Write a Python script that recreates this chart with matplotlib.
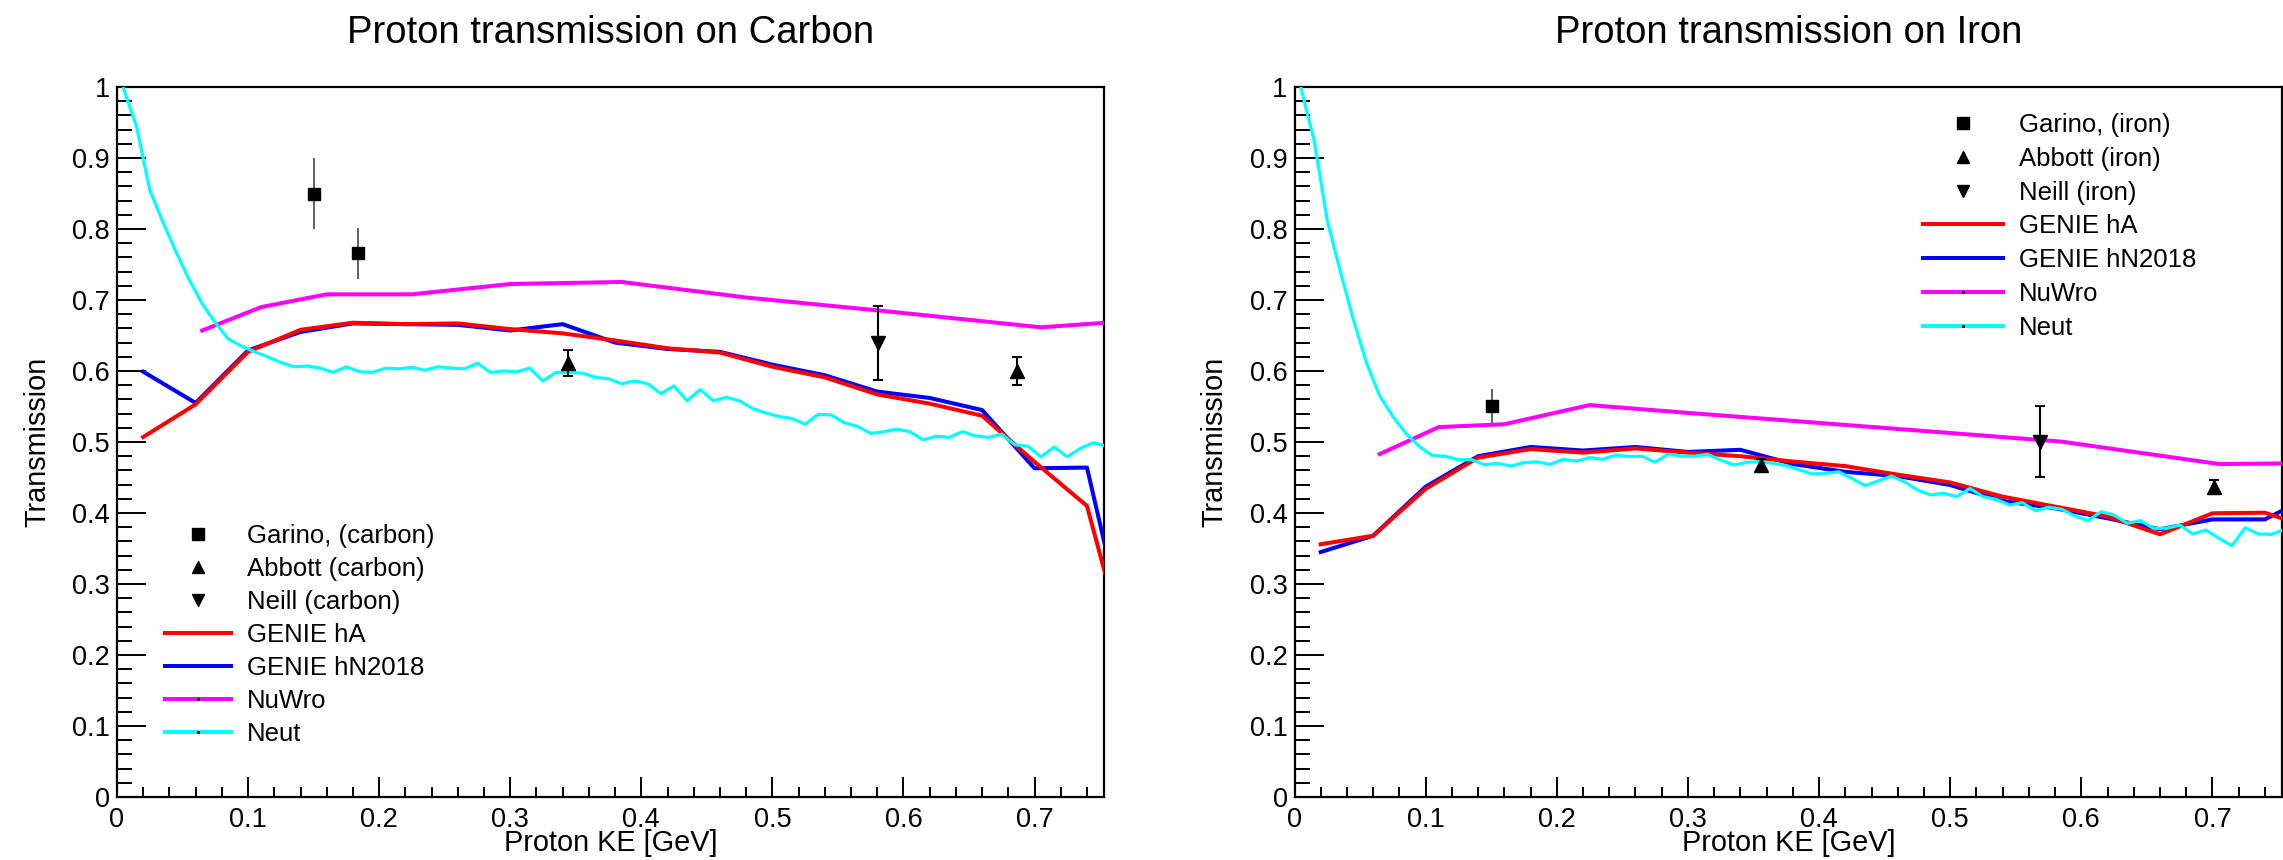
import numpy as np
import matplotlib
matplotlib.use("Agg")
import matplotlib.pyplot as plt
from matplotlib.lines import Line2D
from matplotlib.ticker import MultipleLocator, FormatStrFormatter

plt.rcParams['font.family'] = ['Liberation Sans', 'DejaVu Sans']

# ---------------- data ----------------
# Neut histogram bin centres (0.005 ... 0.755)
neut_x = [round(0.005 + 0.01 * i, 3) for i in range(76)]
neut_carbon = [0.998, 0.944, 0.855, 0.810, 0.768, 0.729, 0.695, 0.668, 0.645, 0.635,
               0.627, 0.620, 0.612, 0.606, 0.607, 0.604, 0.598, 0.606, 0.599, 0.598,
               0.604, 0.603, 0.605, 0.601, 0.606, 0.604, 0.603, 0.611, 0.598, 0.600,
               0.599, 0.604, 0.586, 0.598, 0.598, 0.597, 0.591, 0.589, 0.582, 0.586,
               0.582, 0.568, 0.579, 0.558, 0.574, 0.558, 0.563, 0.558, 0.547, 0.541,
               0.536, 0.533, 0.525, 0.539, 0.538, 0.527, 0.522, 0.512, 0.5145, 0.518,
               0.5145, 0.503, 0.508, 0.5065, 0.5145, 0.5085, 0.5065, 0.511, 0.496, 0.494,
               0.479, 0.493, 0.479, 0.491, 0.499, 0.494]
neut_iron = [0.998, 0.925, 0.812, 0.740, 0.672, 0.611, 0.565, 0.536, 0.512, 0.494,
             0.481, 0.480, 0.475, 0.475, 0.468, 0.470, 0.466, 0.471, 0.472, 0.4685,
             0.4756, 0.473, 0.478, 0.4756, 0.4817, 0.4794, 0.480, 0.4714, 0.483, 0.480,
             0.480, 0.4826, 0.4746, 0.4676, 0.4714, 0.4723, 0.470, 0.4667, 0.4606, 0.455,
             0.456, 0.458, 0.4488, 0.4385, 0.445, 0.452, 0.444, 0.4324, 0.4254, 0.4277,
             0.423, 0.4345, 0.423, 0.4193, 0.4113, 0.4145, 0.4032, 0.408, 0.4052, 0.3958,
             0.3892, 0.4018, 0.3972, 0.3855, 0.3892, 0.3785, 0.3785, 0.383, 0.3704, 0.376,
             0.3643, 0.354, 0.3793, 0.3704, 0.370, 0.377]

# GENIE points (0.02 ... 0.78)
genie_x = [0.02, 0.06, 0.10, 0.14, 0.18, 0.22, 0.26, 0.30, 0.34, 0.38,
           0.42, 0.46, 0.50, 0.54, 0.58, 0.62, 0.66, 0.70, 0.74, 0.78]
ha_carbon = [0.507, 0.553, 0.627, 0.658, 0.668, 0.666, 0.667, 0.659, 0.653, 0.643,
             0.632, 0.626, 0.606, 0.591, 0.567, 0.554, 0.537, 0.472, 0.410, 0.136]
hn_carbon = [0.599, 0.555, 0.629, 0.655, 0.667, 0.666, 0.665, 0.657, 0.666, 0.640,
             0.631, 0.627, 0.609, 0.594, 0.571, 0.562, 0.545, 0.463, 0.464, 0.146]
ha_iron = [0.356, 0.368, 0.434, 0.478, 0.490, 0.485, 0.491, 0.485, 0.480, 0.4725,
           0.466, 0.454, 0.443, 0.423, 0.409, 0.395, 0.370, 0.3996, 0.4004, 0.376]
hn_iron = [0.345, 0.368, 0.437, 0.480, 0.493, 0.488, 0.493, 0.486, 0.489, 0.469,
           0.458, 0.452, 0.4394, 0.417, 0.4066, 0.3925, 0.377, 0.391, 0.391, 0.4286]

# NuWro points
nuwro_x = [0.065, 0.11, 0.16, 0.225, 0.30, 0.385, 0.48, 0.585, 0.705, 0.83]
nuwro_carbon = [0.657, 0.690, 0.708, 0.708, 0.7225, 0.7254, 0.7035, 0.6845, 0.6615, 0.678]
nuwro_iron = [0.483, 0.521, 0.525, 0.552, 0.541, 0.529, 0.5155, 0.5005, 0.469, 0.471]

# measurements
garino_c_x, garino_c_y, garino_c_e = [0.1505, 0.1836], [0.850, 0.766], [0.050, 0.036]
abbott_c_x, abbott_c_y, abbott_c_e = [0.3437, 0.687], [0.611, 0.600], [0.018, 0.020]
neill_c_x, neill_c_y, neill_c_e = [0.5807], [0.639], [0.052]

garino_fe_x, garino_fe_y, garino_fe_e = [0.1504], [0.5507], [0.024]
abbott_fe_x, abbott_fe_y, abbott_fe_e = [0.3558, 0.7014], [0.4676, 0.437], [0.008, 0.010]
neill_fe_x, neill_fe_y, neill_fe_e = [0.5687], [0.5004], [0.050]

titles = ["Proton transmission on Carbon", "Proton transmission on Iron"]
xlabel = "Proton KE [GeV]"
ylabel = "Transmission"
labels_c = ["Garino, (carbon)", "Abbott (carbon)", "Neill (carbon)",
            "GENIE hA", "GENIE hN2018", "NuWro", "Neut"]
labels_fe = ["Garino, (iron)", "Abbott (iron)", "Neill (iron)",
             "GENIE hA", "GENIE hN2018", "NuWro", "Neut"]

# ---------------- figure ----------------
W, H = 2283, 860
fig = plt.figure(figsize=(W / 100, H / 100), dpi=100)

def fx(px):
    return px / W

def fy(py):
    return 1 - py / H

ax1 = fig.add_axes([fx(117), fy(797), fx(1104 - 117), (797 - 87) / H])
ax2 = fig.add_axes([fx(1294.5), fy(797), fx(2282 - 1294.5), (797 - 87) / H])

LW = 2.9
CLW = 2.3
RED, BLUE, MAG, CYAN = '#ff0000', '#0000ff', '#ff00ff', '#00ffff'


def draw(ax, title, ha, hn, nuwro, neut, garino, abbott, neill, labels, leg_anchor, hlen, lspace):
    ax.plot(genie_x, hn, color=BLUE, lw=LW, zorder=3)
    ax.plot(genie_x, ha, color=RED, lw=LW, zorder=4)
    ax.plot(nuwro_x, nuwro, color=MAG, lw=LW, zorder=3)
    ax.plot(neut_x, neut, color=CYAN, lw=CLW, zorder=5)

    gx, gy, ge = garino
    ax.errorbar(gx, gy, yerr=ge, fmt='s', color='k', ms=9, ecolor='#555555',
                elinewidth=1.3, capsize=0, zorder=6)
    axx, ayy, aee = abbott
    ax.errorbar(axx, ayy, yerr=aee, fmt='^', color='k', ms=9.5, ecolor='k',
                elinewidth=1.5, capsize=3.5, capthick=1.5, zorder=6)
    nx, ny, ne = neill
    ax.errorbar(nx, ny, yerr=ne, fmt='v', color='k', ms=9.5, ecolor='k',
                elinewidth=1.5, capsize=3.5, capthick=1.5, zorder=6)

    ax.set_xlim(0, 0.753)
    ax.set_ylim(0, 1)
    ax.xaxis.set_major_locator(MultipleLocator(0.1))
    ax.xaxis.set_minor_locator(MultipleLocator(0.02))
    ax.yaxis.set_major_locator(MultipleLocator(0.1))
    ax.yaxis.set_minor_locator(MultipleLocator(0.02))
    ax.xaxis.set_major_formatter(FormatStrFormatter('%g'))
    ax.yaxis.set_major_formatter(FormatStrFormatter('%g'))
    ax.tick_params(axis='both', which='both', direction='in', top=False, right=False,
                   width=1.4, labelsize=19.5, colors='k')
    ax.tick_params(axis='x', which='major', length=14.5, pad=7)
    ax.tick_params(axis='x', which='minor', length=7.2)
    ax.tick_params(axis='y', which='major', length=21, pad=5)
    ax.tick_params(axis='y', which='minor', length=10.8)
    for s in ax.spines.values():
        s.set_linewidth(1.6)

    ax.set_title(title, fontsize=27.5, pad=32)
    ax.set_xlabel(xlabel, fontsize=20.8)
    ax.xaxis.set_label_coords(0.5, (797 - 829) / 710)
    ax.set_ylabel(ylabel, fontsize=20.8, labelpad=15)

    handles = [
        Line2D([], [], ls='none', marker='s', color='k', ms=8.5),
        Line2D([], [], ls='none', marker='^', color='k', ms=9),
        Line2D([], [], ls='none', marker='v', color='k', ms=9),
        Line2D([], [], color=RED, lw=LW),
        Line2D([], [], color=BLUE, lw=LW),
        Line2D([], [], color=MAG, lw=LW, marker='s', ms=1.2, mfc='k', mec='k'),
        Line2D([], [], color=CYAN, lw=LW, marker='s', ms=1.2, mfc='k', mec='k'),
    ]
    leg = ax.legend(handles, labels, loc='upper left',
                    bbox_to_anchor=(fx(leg_anchor[0]), fy(leg_anchor[1])),
                    bbox_transform=fig.transFigure, frameon=False, fontsize=18.5,
                    handlelength=hlen, handletextpad=0.62, labelspacing=lspace,
                    borderpad=0, borderaxespad=0)
    return leg


draw(ax1, titles[0], ha_carbon, hn_carbon, nuwro_carbon, neut_carbon,
     (garino_c_x, garino_c_y, garino_c_e), (abbott_c_x, abbott_c_y, abbott_c_e),
     (neill_c_x, neill_c_y, neill_c_e), labels_c, (165, 524), 2.57, 0.35)
draw(ax2, titles[1], ha_iron, hn_iron, nuwro_iron, neut_iron,
     (garino_fe_x, garino_fe_y, garino_fe_e), (abbott_fe_x, abbott_fe_y, abbott_fe_e),
     (neill_fe_x, neill_fe_y, neill_fe_e), labels_fe, (1923, 113), 3.1, 0.38)

fig.savefig("out.png", dpi=100)
